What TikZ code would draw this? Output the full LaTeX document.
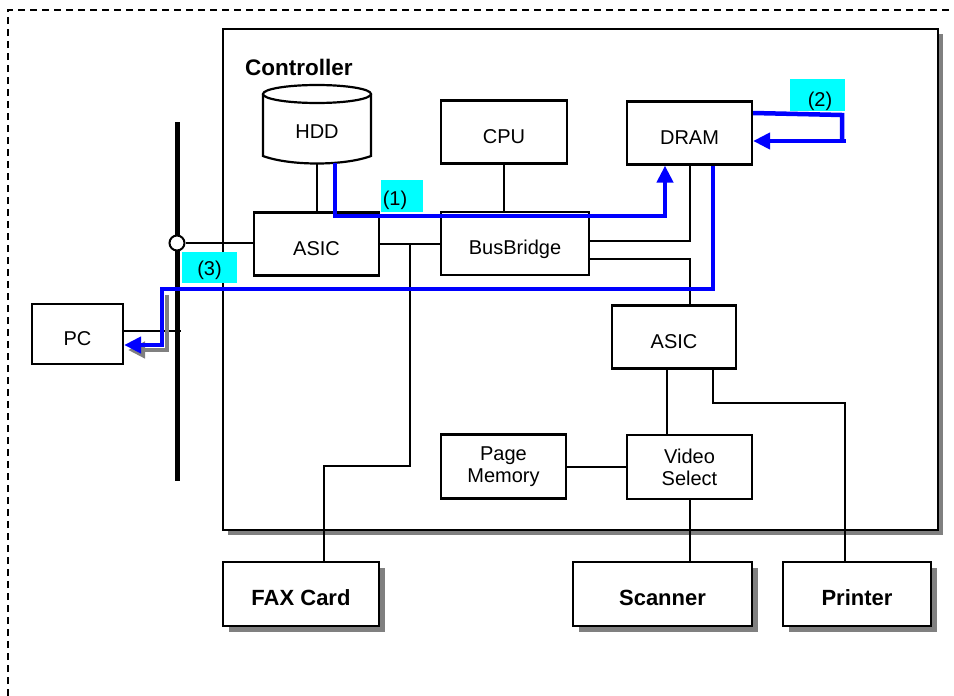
\documentclass[tikz,border=0pt]{standalone}
\usepackage{fontspec}
\setmainfont{Liberation Sans}
\usetikzlibrary{arrows.meta,shadows}
\definecolor{cy}{HTML}{00FFFF}
\definecolor{bl}{HTML}{0000FF}
\definecolor{sh}{HTML}{808080}
\begin{document}
\begin{tikzpicture}[x=1pt,y=-1pt,
  box/.style={draw, line width=2.2pt, fill=white, inner sep=0pt, align=center,
    font=\fontsize{20}{22}\selectfont},
  one/.style={text height=22.3pt, text depth=0pt},
  ext/.style={box, font=\bfseries\fontsize{22}{24}\selectfont, text height=23.8pt, text depth=0pt,
    drop shadow={shadow xshift=6pt,shadow yshift=-6pt,fill=sh,opacity=1}},
  wire/.style={line width=2pt},
  flow/.style={draw=bl, line width=4.5pt},
  tipa/.style={-{Triangle[length=17pt,width=16pt]}},
  lblbg/.style={fill=cy, draw=none, inner sep=0pt},
  lbltxt/.style={inner sep=0pt, font=\fontsize{20}{22}\selectfont}
]
\useasboundingbox (0,0) rectangle (954,696);
% dashed frame
\coordinate (fr1) at (8,696); \coordinate (fr2) at (8,10); \coordinate (fr3) at (954,10);
\draw[line width=1.5pt, dash pattern=on 7pt off 5pt] (fr1) -- (fr2) -- (fr3);

% controller
\node[box, line width=2.8pt, minimum width=715pt, minimum height=501pt,
  drop shadow={shadow xshift=5pt,shadow yshift=-5pt,fill=sh,opacity=1}] (ctrl) at (580.5,279.5) {};
\node[anchor=west, inner sep=0pt, font=\bfseries\fontsize{22.5}{24}\selectfont] (ctitle) at (245,67) {Controller};

% HDD
\draw[line width=2.2pt, fill=white] (263,94) -- (263,156) .. controls (290,166) and (344,166) .. (371,156) -- (371,94);
\draw[line width=2.2pt, fill=white] (317,94) ellipse [x radius=54pt, y radius=9pt];
\node[one, minimum width=108pt, minimum height=72pt, inner sep=0pt, font=\fontsize{20}{22}\selectfont] (hdd) at (317,127) {HDD};

% inner boxes
\node[box, one, minimum width=126pt, minimum height=63pt] (cpu) at (504,132) {CPU};
\node[box, one, minimum width=125pt, minimum height=63pt] (dram) at (689.5,133) {DRAM};
\node[box, one, minimum width=125pt, minimum height=63pt] (asicL) at (316.5,244) {ASIC};
\node[box, one, minimum width=148pt, minimum height=63pt] (bb) at (515,243.5) {BusBridge};
\node[box, one, minimum width=124pt, minimum height=63pt] (asicR) at (674,337) {ASIC};
\node[box, minimum width=125pt, minimum height=64pt] (pm) at (503.5,466.5) {Page\\Memory};
\node[box, minimum width=125pt, minimum height=64pt] (vs) at (689.5,467) {Video\\Select};
\node[box, one, minimum width=91pt, minimum height=60pt] (pc) at (77.5,334) {PC};

% external boxes
\node[ext, minimum width=156pt, minimum height=64pt] (fax) at (301,594) {FAX Card};
\node[ext, minimum width=179pt, minimum height=64pt] (scanner) at (662.5,594) {Scanner};
\node[ext, minimum width=148pt, minimum height=64pt] (printer) at (857,594) {Printer};

% bus
\coordinate (bustop) at (177,122); \coordinate (busbot) at (177,481);
\draw[line width=5pt] (bustop) -- (busbot);
\coordinate (pcb) at (181,331);
\draw[wire] (pc.east |- pcb) -- (pcb);
\node[draw, fill=white, line width=2pt, circle, minimum size=15pt, inner sep=0pt] (busj) at (177,243) {};
\draw[wire] (busj.east) -- (asicL.west |- busj.east);

% black connectors
\draw[wire] (hdd.south) -- (hdd.south |- asicL.north);
\draw[wire] (cpu.south) -- (cpu.south |- bb.north);
\draw[wire] (asicL.east) -- (asicL.east -| bb.west);
\coordinate (fxa) at (410,244); \coordinate (fxb) at (410,466); \coordinate (fxc) at (324,466);
\draw[wire] (fxa) -- (fxb) -- (fxc) -- (fxc |- fax.north);
\coordinate (bdy) at (690,241);
\draw[wire] (bb.east |- bdy) -- (bdy) -- (bdy |- dram.south);
\coordinate (bay) at (690,259);
\draw[wire] (bb.east |- bay) -- (bay) -- (bay |- asicR.north);
\coordinate (avx) at (667,400);
\draw[wire] (asicR.south -| avx) -- (vs.north -| avx);
\coordinate (ap1) at (713,403); \coordinate (ap2) at (845,403);
\draw[wire] (asicR.south -| ap1) -- (ap1) -- (ap2) -- (ap2 |- printer.north);
\draw[wire] (pm.east) -- (pm.east -| vs.west);
\draw[wire] (vs.south) -- (vs.south |- scanner.north);

% blue flow (1)
\coordinate (f1a) at (335,216); \coordinate (f1b) at (665,216);
\draw[flow, tipa] (hdd.south -| f1a) -- (f1a) -- (f1b) -- (f1b |- dram.south);
% blue flow (2)
\coordinate (f2s) at (700,113); \coordinate (f2a) at (842,115); \coordinate (f2b) at (842,141); \coordinate (f2c) at (846,141);
\draw[flow] (dram.east |- f2s) -- (f2a) -- (f2b);
\draw[flow, tipa] (f2c) -- (dram.east |- f2c);
% blue flow (3) with shadow
\coordinate (s3a) at (167,295); \coordinate (s3b) at (167,350); \coordinate (s3c) at (128,350);
\draw[sh, line width=4.5pt, tipa] (s3a) -- (s3b) -- (s3c);
\coordinate (f3a) at (713,289); \coordinate (f3b) at (162,289); \coordinate (f3c) at (162,345);
\draw[flow, tipa] (dram.south -| f3a) -- (f3a) -- (f3b) -- (f3c) -- (pc.east |- f3c);

% labels
\node[lblbg, minimum width=42pt, minimum height=32pt] (l1bg) at (402,196) {};
\node[lbltxt] (l1) at (395,200) {(1)};
\node[lblbg, minimum width=55pt, minimum height=32pt] (l2bg) at (817.5,95) {};
\node[lbltxt] (l2) at (820,101) {(2)};
\node[lblbg, minimum width=55pt, minimum height=31pt] (l3bg) at (209.5,267.5) {};
\node[lbltxt] (l3) at (209.5,270) {(3)};
\end{tikzpicture}
\end{document}
